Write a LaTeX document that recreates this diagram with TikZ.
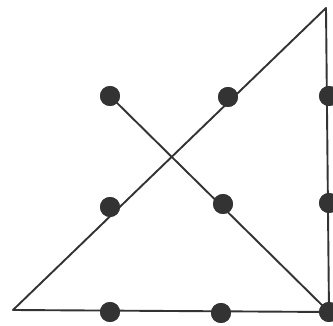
\documentclass[tikz,border=0pt]{standalone}
\begin{document}
\begin{tikzpicture}[x=1pt,y=-1pt,
  dot/.style={circle,fill=black!80,inner sep=0pt,minimum size=20pt},
  ln/.style={draw=black!80,line width=1.9pt,line join=round}]
\useasboundingbox (0,0) rectangle (333,326);
\coordinate (apex) at (326,8);
\coordinate (corner) at (13,310);
\node[dot] (a1) at (110,96) {};
\node[dot] (a2) at (228,97) {};
\node[dot] (a3) at (329,96) {};
\node[dot] (b1) at (110,207) {};
\node[dot] (b2) at (223,204) {};
\node[dot] (b3) at (329,203) {};
\node[dot] (c1) at (110,312) {};
\node[dot] (c2) at (221,313) {};
\node[dot] (c3) at (329,312) {};
\begin{scope}[on background layer/.style={}]
\end{scope}
\draw[ln] (a1.center) -- (c3.center) -- (apex) -- (corner) -- (c3.center);
\foreach \n in {a1,a2,a3,b1,b2,b3,c1,c2,c3}
  \fill[black!80] (\n) circle (10pt);
\end{tikzpicture}
\end{document}
